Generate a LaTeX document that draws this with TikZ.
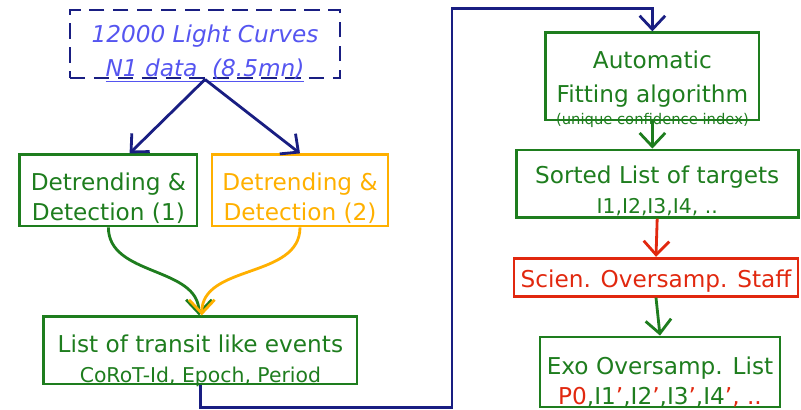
\documentclass[tikz,border=0pt]{standalone}
\usepackage{fontspec}
\setmainfont{DejaVu Sans}
\usepackage{xcolor}
\usepackage{tikz}
\usetikzlibrary{arrows.meta,positioning}
\definecolor{navyc}{RGB}{25,30,130}
\definecolor{bluetxt}{RGB}{85,85,240}
\definecolor{greenc}{RGB}{30,125,30}
\definecolor{orangec}{RGB}{255,176,0}
\definecolor{redc}{RGB}{225,40,15}
\newcommand{\topgap}[1]{\rule{0pt}{#1}}

\begin{document}
\begin{tikzpicture}[
  box/.style={rectangle, draw, line width=2pt, align=center, inner xsep=2pt, inner ysep=0pt,
    font=\fontsize{16.5}{21.5}\selectfont},
  flow/.style={-{Straight Barb[length=3.4mm,width=6.4mm,line width=2pt]}, line width=2pt}
]
\useasboundingbox (0,0) rectangle (20.025,-10.25);
% left column
\node[box, draw=navyc, dashed, dash pattern=on 11pt off 6pt, text=bluetxt, minimum width=6.75cm, minimum height=1.7cm,
  font=\fontsize{16.5}{24}\selectfont\itshape] (curves) at (5.125,-1.1) {\topgap{0.78cm}12000 Light Curves\\\smash{\underline{N1 data\ \ (8.5mn)}}};
\node[box, draw=greenc, text=greenc, minimum width=4.43cm, minimum height=1.78cm] (det1) at (2.71,-4.76) {\topgap{0.74cm}Detrending \&\\\smash{Detection (1)}};
\node[box, draw=orangec, text=orangec, minimum width=4.4cm, minimum height=1.78cm] (det2) at (7.5,-4.76) {\topgap{0.74cm}Detrending \&\\\smash{Detection (2)}};
\node[box, draw=greenc, text=greenc, minimum width=7.83cm, minimum height=1.68cm] (events) at (5.01,-8.76)
  {\topgap{0.86cm}List of transit like events\\\smash{\fontsize{14.5}{16}\selectfont CoRoT-Id, Epoch, Period}};
% right column
\node[box, draw=greenc, text=greenc, minimum width=5.33cm, minimum height=2.18cm,
  font=\fontsize{16.5}{24}\selectfont] (fit) at (16.31,-1.91) {\topgap{0.44cm}Automatic\\\smash{Fitting algorithm}};
\node[text=greenc, font=\fontsize{10.5}{12}\selectfont] (fitidx) at (16.31,-3.02) {(unique confidence index)};
\node[box, draw=greenc, text=greenc, minimum width=7.05cm, minimum height=1.68cm] (sorted) at (16.43,-4.59)
  {\topgap{0.74cm}Sorted List of targets\\\smash{\fontsize{14.5}{16}\selectfont I1,I2,I3,I4, ..}};
\node[box, draw=redc, text=redc, minimum width=7.1cm, minimum height=0.95cm] (staff) at (16.4,-6.93) {\topgap{0.64cm}Scien. Oversamp. Staff};
\node[box, draw=greenc, text=greenc, minimum width=6.0cm, minimum height=1.75cm] (exo) at (16.5,-9.3)
  {\topgap{0.86cm}Exo Oversamp. List\\\smash{{\color{redc}P0},I1{\color{redc}'},I2{\color{redc}'},I3{\color{redc}'},I4{\color{redc}', ..}}};
\coordinate (bend1) at (11.3,-10.18);
\coordinate (bend2) at (11.3,-0.22);
% connectors
\draw[flow, navyc] (curves.south) -- ([xshift=0.53cm]det1.north);
\draw[flow, navyc] (curves.south) -- (det2.north);
\draw[flow, greenc] (det1.south) to[out=-90, in=90] ([xshift=-1pt]events.north);
\draw[flow, orangec] (det2.south) to[out=-90, in=90] ([xshift=1pt]events.north);
\draw[flow, navyc] (events.south) |- (bend1) -- (bend2) -| (fit.north);
\draw[flow, greenc] (fit.south) -- (fit.south |- sorted.north);
\draw[flow, redc] (sorted.south) -- (staff.north);
\draw[flow, greenc] (staff.south) -- (exo.north);
\end{tikzpicture}
\end{document}
